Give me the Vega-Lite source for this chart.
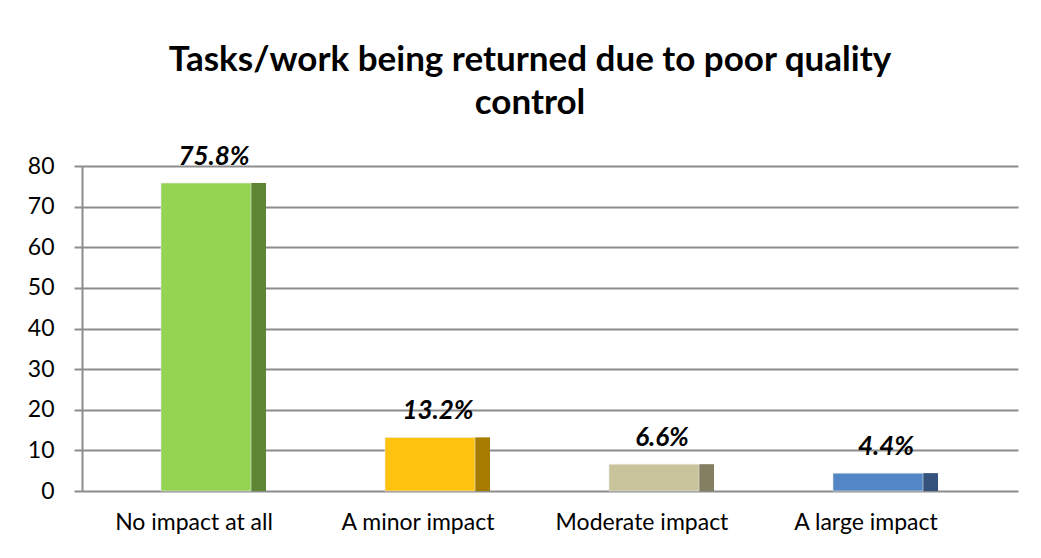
{
  "$schema": "https://vega.github.io/schema/vega-lite/v6.json",
  "autosize": {"type": "none"},
  "padding": {"left": 82, "top": 166, "right": 23, "bottom": 67},
  "width": 936,
  "height": 325,
  "background": "white",
  "title": {
    "text": ["Tasks/work being returned due to poor quality", "control"],
    "font": "Lato",
    "fontSize": 35,
    "fontWeight": "bold",
    "color": "black",
    "lineHeight": 43,
    "anchor": "middle",
    "dx": -20,
    "offset": 23
  },
  "data": {
    "values": [
      {"impact": "No impact at all", "percent": 75.8, "label": "75.8%", "front": "#95D452", "side": "#5E8634"},
      {"impact": "A minor impact", "percent": 13.2, "label": "13.2%", "front": "#FFC20E", "side": "#A67C00"},
      {"impact": "Moderate impact", "percent": 6.6, "label": "6.6%", "front": "#C9C39C", "side": "#857F62"},
      {"impact": "A large impact", "percent": 4.4, "label": "4.4%", "front": "#5386C5", "side": "#35527D"}
    ]
  },
  "encoding": {
    "x": {
      "field": "impact",
      "type": "nominal",
      "sort": null,
      "scale": {"paddingInner": 0, "paddingOuter": 0.0893, "align": 0},
      "axis": {
        "title": null,
        "labelAngle": 0,
        "labelFont": "Lato",
        "labelFontSize": 23,
        "labelColor": "black",
        "labelPadding": 20,
        "ticks": false,
        "domain": false
      }
    },
    "y": {
      "field": "percent",
      "type": "quantitative",
      "scale": {"domain": [0, 80], "nice": false},
      "axis": {
        "title": null,
        "values": [0, 10, 20, 30, 40, 50, 60, 70, 80],
        "labelFont": "Lato",
        "labelFontSize": 23,
        "labelColor": "black",
        "labelPadding": 20,
        "tickSize": 8,
        "tickColor": "#8c8c8c",
        "tickWidth": 2,
        "domainColor": "#8c8c8c",
        "domainWidth": 2,
        "gridColor": "#8c8c8c",
        "gridWidth": 2
      }
    }
  },
  "layer": [
    {
      "mark": {"type": "bar", "width": 15, "xOffset": 64.5, "stroke": null},
      "encoding": {"color": {"field": "side", "type": "nominal", "scale": null}}
    },
    {
      "mark": {"type": "bar", "width": 90, "xOffset": 12, "strokeWidth": 1, "stroke": "#e8e8e8", "strokeOpacity": 0.6},
      "encoding": {"color": {"field": "front", "type": "nominal", "scale": null}}
    },
    {
      "mark": {"type": "text", "font": "Lato", "fontSize": 26, "fontWeight": "bold", "fontStyle": "italic", "color": "black", "dx": 20, "dy": -26, "baseline": "middle"},
      "encoding": {"text": {"field": "label"}}
    }
  ],
  "config": {"view": {"stroke": null}}
}
